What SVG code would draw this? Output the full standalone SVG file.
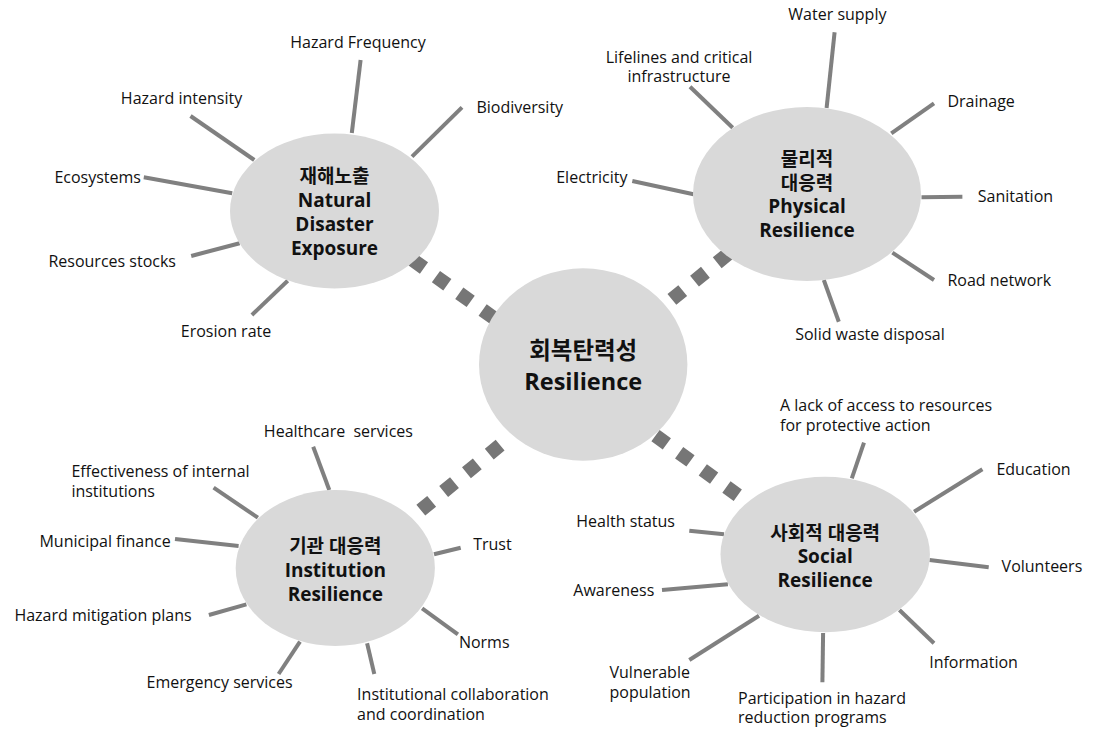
<svg xmlns="http://www.w3.org/2000/svg" width="1099" height="737" viewBox="0 0 1099 737">
<style>
.bg{fill:#ffffff}
.node ellipse{fill:#d9d9d9}
.spoke{stroke:#808080;stroke-width:4;fill:none}
.dash{stroke:#767676;stroke-width:14;fill:none}
.lbl{font-family:"Open Sans","Noto Sans CJK KR",sans-serif;font-size:16px;fill:#111}
.ttl{font-family:"Open Sans","Noto Sans CJK KR",sans-serif;font-size:19px;font-weight:bold;fill:#111;text-anchor:middle}
.big{font-size:23.5px}
</style>
<rect class="bg" x="0" y="0" width="1099" height="737"/>
<g id="connectors">
<line class="dash" x1="412.6" y1="259.9" x2="494" y2="318.1" stroke-dasharray="14 14.7"/>
<line class="dash" x1="728.1" y1="253.9" x2="671.9" y2="299.4" stroke-dasharray="14 15.2"/>
<line class="dash" x1="500.1" y1="445.2" x2="420.8" y2="510.2" stroke-dasharray="14 15.5"/>
<line class="dash" x1="655.5" y1="435.6" x2="737.9" y2="495.3" stroke-dasharray="14 15.2"/>
</g>
<g id="spokes">
<line class="spoke" x1="360.6" y1="60" x2="351.8" y2="133"/>
<line class="spoke" x1="462" y1="107.3" x2="412" y2="156.7"/>
<line class="spoke" x1="190.5" y1="116" x2="254.3" y2="160"/>
<line class="spoke" x1="143.8" y1="177.3" x2="232.2" y2="193.3"/>
<line class="spoke" x1="191.2" y1="256" x2="239.6" y2="243.3"/>
<line class="spoke" x1="251.9" y1="315" x2="287.7" y2="280.7"/>
<line class="spoke" x1="834.6" y1="32.3" x2="826.6" y2="108"/>
<line class="spoke" x1="690" y1="86.7" x2="732.7" y2="127.7"/>
<line class="spoke" x1="934" y1="103.3" x2="891.3" y2="133.3"/>
<line class="spoke" x1="632.3" y1="181" x2="693.5" y2="194.3"/>
<line class="spoke" x1="921.5" y1="197.3" x2="962.4" y2="196.7"/>
<line class="spoke" x1="892.4" y1="252.7" x2="934" y2="280"/>
<line class="spoke" x1="823.8" y1="280" x2="838.8" y2="321.7"/>
<line class="spoke" x1="313.2" y1="446.7" x2="329.3" y2="490"/>
<line class="spoke" x1="213.6" y1="487.7" x2="257.9" y2="517.7"/>
<line class="spoke" x1="175" y1="539" x2="238.6" y2="546"/>
<line class="spoke" x1="208.9" y1="615" x2="246.4" y2="604.3"/>
<line class="spoke" x1="278.6" y1="674" x2="300" y2="641.7"/>
<line class="spoke" x1="374.3" y1="674" x2="367.1" y2="643.3"/>
<line class="spoke" x1="457.9" y1="634.3" x2="422.1" y2="608.3"/>
<line class="spoke" x1="460.7" y1="547.7" x2="434" y2="554.3"/>
<line class="spoke" x1="864" y1="442.7" x2="851.8" y2="478.3"/>
<line class="spoke" x1="982.4" y1="469.3" x2="914.1" y2="511.7"/>
<line class="spoke" x1="689.3" y1="530.7" x2="724" y2="534.3"/>
<line class="spoke" x1="662" y1="590" x2="727.9" y2="584.3"/>
<line class="spoke" x1="929.5" y1="560" x2="988.7" y2="567.3"/>
<line class="spoke" x1="689.3" y1="660" x2="759" y2="615.7"/>
<line class="spoke" x1="823.1" y1="633" x2="822.4" y2="682.3"/>
<line class="spoke" x1="899.4" y1="610" x2="934" y2="643.3"/>
</g>
<g id="node-natural" class="node">
<ellipse cx="334.5" cy="211" rx="104.5" ry="77.5"/>
<text class="ttl" x="334.5" y="182.5">재해노출</text>
<text class="ttl" x="334.5" y="206.7">Natural</text>
<text class="ttl" x="334.5" y="230.7">Disaster</text>
<text class="ttl" x="334.5" y="254.7">Exposure</text>
</g>
<g id="node-physical" class="node">
<ellipse cx="807" cy="194" rx="114" ry="87"/>
<text class="ttl" x="807" y="166">물리적</text>
<text class="ttl" x="807" y="190">대응력</text>
<text class="ttl" x="807" y="213.3">Physical</text>
<text class="ttl" x="807" y="237.3">Resilience</text>
</g>
<g id="node-central" class="node">
<ellipse cx="583.2" cy="364.5" rx="104.2" ry="96.2"/>
<text class="ttl big" x="583.2" y="359">회복탄력성</text>
<text class="ttl big" x="583.2" y="390">Resilience</text>
</g>
<g id="node-institution" class="node">
<ellipse cx="335.3" cy="568" rx="99.6" ry="78"/>
<text class="ttl" x="335.3" y="553">기관 대응력</text>
<text class="ttl" x="335.3" y="577.3">Institution</text>
<text class="ttl" x="335.3" y="600.5">Resilience</text>
</g>
<g id="node-social" class="node">
<ellipse cx="825.2" cy="554.5" rx="104.7" ry="77.8"/>
<text class="ttl" x="825.2" y="540">사회적 대응력</text>
<text class="ttl" x="825.2" y="563.3">Social</text>
<text class="ttl" x="825.2" y="586.7">Resilience</text>
</g>
<g id="labels">
<text class="lbl" x="358" y="47.7" text-anchor="middle">Hazard Frequency</text>
<text class="lbl" x="181.5" y="104" text-anchor="middle">Hazard intensity</text>
<text class="lbl" x="476.4" y="113">Biodiversity</text>
<text class="lbl" x="141" y="182.7" text-anchor="end">Ecosystems</text>
<text class="lbl" x="112.2" y="267" text-anchor="middle">Resources stocks</text>
<text class="lbl" x="226" y="336.7" text-anchor="middle">Erosion rate</text>
<text class="lbl" x="837.4" y="19.5" text-anchor="middle">Water supply</text>
<text class="lbl" x="679" y="63" text-anchor="middle">Lifelines and critical</text>
<text class="lbl" x="679" y="81.7" text-anchor="middle">infrastructure</text>
<text class="lbl" x="947.4" y="106.7">Drainage</text>
<text class="lbl" x="627.5" y="183.3" text-anchor="end">Electricity</text>
<text class="lbl" x="977.8" y="201.7">Sanitation</text>
<text class="lbl" x="947.4" y="285.7">Road network</text>
<text class="lbl" x="870" y="340" text-anchor="middle">Solid waste disposal</text>
<text class="lbl" x="338.4" y="436.7" text-anchor="middle" xml:space="preserve">Healthcare  services</text>
<text class="lbl" x="71.4" y="476.7">Effectiveness of internal</text>
<text class="lbl" x="71.4" y="496.7">institutions</text>
<text class="lbl" x="170.7" y="546.7" text-anchor="end">Municipal finance</text>
<text class="lbl" x="103" y="620.7" text-anchor="middle">Hazard mitigation plans</text>
<text class="lbl" x="219.6" y="687.7" text-anchor="middle">Emergency services</text>
<text class="lbl" x="357.1" y="700">Institutional collaboration</text>
<text class="lbl" x="357.1" y="720">and coordination</text>
<text class="lbl" x="473.2" y="550">Trust</text>
<text class="lbl" x="458.9" y="648.3">Norms</text>
<text class="lbl" x="780" y="410.7">A lack of access to resources</text>
<text class="lbl" x="780" y="430.7">for protective action</text>
<text class="lbl" x="996.4" y="475">Education</text>
<text class="lbl" x="675" y="526.7" text-anchor="end">Health status</text>
<text class="lbl" x="654.3" y="595.7" text-anchor="end">Awareness</text>
<text class="lbl" x="1001.6" y="572.3">Volunteers</text>
<text class="lbl" x="609.5" y="678.3">Vulnerable</text>
<text class="lbl" x="609.5" y="698.3">population</text>
<text class="lbl" x="738" y="704.3">Participation in hazard</text>
<text class="lbl" x="738" y="723.3">reduction programs</text>
<text class="lbl" x="929.2" y="668.3">Information</text>
</g>
</svg>
